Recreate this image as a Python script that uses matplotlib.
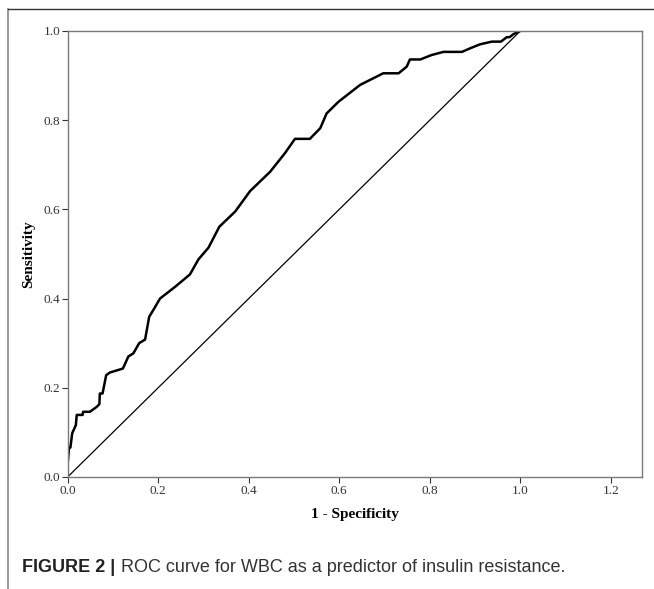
import matplotlib
matplotlib.use('Agg')
import numpy as np
from matplotlib import pyplot as plt
from matplotlib.lines import Line2D

# ROC curve
fpr = [0.0, 0.0, 0.003, 0.006, 0.010, 0.018, 0.020, 0.033, 0.034, 0.049,
       0.064, 0.070, 0.071, 0.077, 0.085, 0.093, 0.122, 0.134, 0.145, 0.158,
       0.171, 0.180, 0.189, 0.204, 0.237, 0.270, 0.289, 0.311, 0.335, 0.370,
       0.403, 0.447, 0.480, 0.502, 0.535, 0.558, 0.572, 0.598, 0.646, 0.697,
       0.731, 0.749, 0.756, 0.779, 0.804, 0.830, 0.871, 0.889, 0.911, 0.937,
       0.957, 0.970, 0.976, 0.985, 1.0]
tpr = [0.0, 0.030, 0.066, 0.066, 0.098, 0.116, 0.139, 0.139, 0.146, 0.146,
       0.157, 0.163, 0.187, 0.187, 0.228, 0.234, 0.243, 0.270, 0.277, 0.300,
       0.308, 0.359, 0.374, 0.400, 0.426, 0.454, 0.488, 0.514, 0.561, 0.595,
       0.641, 0.684, 0.726, 0.758, 0.758, 0.782, 0.815, 0.841, 0.879, 0.905,
       0.905, 0.920, 0.936, 0.936, 0.946, 0.953, 0.953, 0.961, 0.970, 0.976,
       0.976, 0.986, 0.986, 0.993, 1.0]
ref_line = [0.0, 1.0]
xticks = [0.0, 0.2, 0.4, 0.6, 0.8, 1.0, 1.2]
yticks = [0.0, 0.2, 0.4, 0.6, 0.8, 1.0]

fig = plt.figure(figsize=(6.54, 5.89), dpi=100)
ax = fig.add_axes([0.1035, 0.1903, 0.8777, 0.7572])

ax.plot(fpr, tpr, color='black', lw=1.8, solid_joinstyle='round')
ax.plot(ref_line, ref_line, color='black', lw=0.9)

ax.set_xlim(0, 1.268)
ax.set_ylim(0, 1.0)
ax.set_xticks(xticks)
ax.set_yticks(yticks)
ax.set_xticklabels(['%.1f' % t for t in xticks])
ax.set_yticklabels(['%.1f' % t for t in yticks])
for lab in ax.get_xticklabels() + ax.get_yticklabels():
    lab.set_family('Liberation Serif')
    lab.set_fontsize(9.5)
    lab.set_color('#333333')
ax.tick_params(direction='out', length=4, width=0.8, color='#333333', pad=1.5)
for s in ax.spines.values():
    s.set_color('#7a7a7a')
    s.set_linewidth(1.0)

ax.set_xlabel('1 - Specificity', family='Liberation Serif', fontweight='bold',
              fontsize=11, labelpad=8)
ax.set_ylabel('Sensitivity', family='Liberation Serif', fontweight='bold',
              fontsize=11, labelpad=6)

# outer frame of the figure panel (left and top only)
fig.add_artist(Line2D([7.5/654, 7.5/654], [0, 1 - 9/589], color='#888888', lw=1.2))
fig.add_artist(Line2D([7.5/654, 1], [1 - 9/589, 1 - 9/589], color='#333333', lw=1.0))

cap_y = 1 - 568/589
t1 = fig.text(22.5/654, cap_y, 'FIGURE 2 | ', family='Liberation Sans',
              fontweight='bold', fontsize=13, color='#222222', va='center')
fig.canvas.draw()
bb = t1.get_window_extent()
x2 = bb.x1 / fig.bbox.width
fig.text(x2, cap_y, 'ROC curve for WBC as a predictor of insulin resistance.',
         family='Liberation Sans', fontsize=13, color='#333333', va='center')

fig.savefig('out.png', dpi=100)
